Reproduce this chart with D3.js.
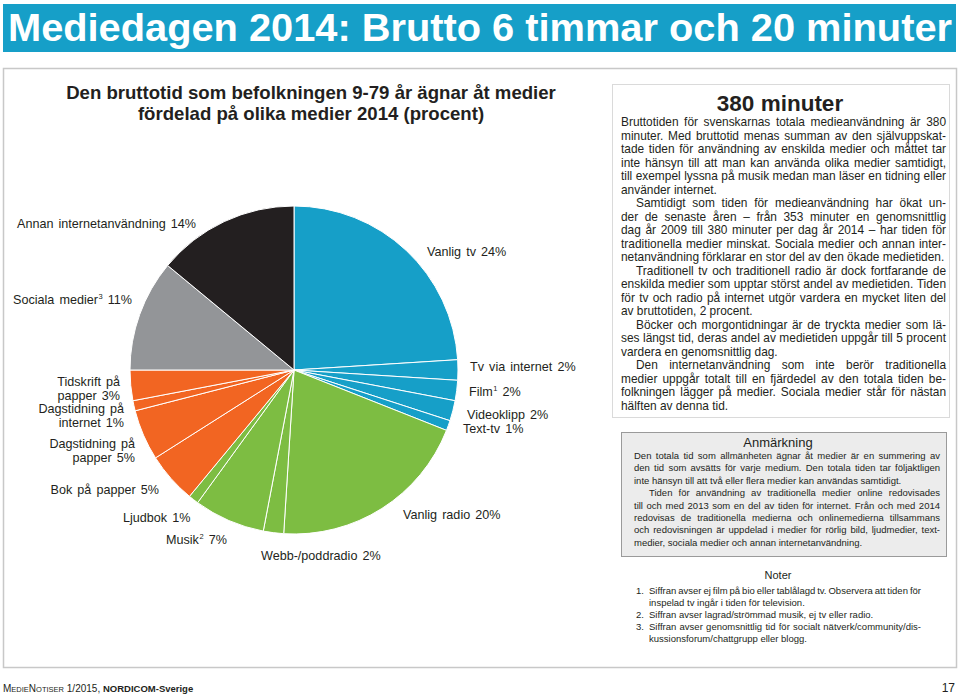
<!DOCTYPE html>
<html><head><meta charset="utf-8">
<script src="https://cdn.jsdelivr.net/npm/d3@7"></script>
<style>
html,body{margin:0;padding:0;background:#fff;}
svg text{font-family:"Liberation Sans",Arial,Helvetica,sans-serif;fill:#231f20;}
</style></head>
<body><svg id="c" width="959" height="695"></svg>
<script>
// ---------- DATA ----------
const title = "Mediedagen 2014: Brutto 6 timmar och 20 minuter";
const chartTitle = ["Den bruttotid som befolkningen 9-79 år ägnar åt medier", "fördelad på olika medier 2014 (procent)"];
const categories = ["Vanlig tv","Tv via internet","Film","Videoklipp","Text-tv","Vanlig radio","Webb-/poddradio","Musik","Ljudbok","Bok på papper","Dagstidning på papper","Dagstidning på internet","Tidskrift på papper","Sociala medier","Annan internetanvändning"];
const values = [24,2,2,2,1,20,2,7,1,5,5,1,3,11,14];
const groups = ["tv","tv","tv","tv","tv","ljud","ljud","ljud","ljud","text","text","text","text","social","annan"];
const footnoteMarks = ["","","1","","","","","2","","","","","","3",""];
const groupNames = ["tv","ljud","text","social","annan"];

const sideHeading = "380 minuter";
const sideParagraphs = [
 ["Bruttotiden för svenskarnas totala medieanvändning är 380","minuter. Med bruttotid menas summan av den självuppskat-","tade tiden för användning av enskilda medier och måttet tar","inte hänsyn till att man kan använda olika medier samtidigt,","till exempel lyssna på musik medan man läser en tidning eller","använder internet."],
 ["Samtidigt som tiden för medieanvändning har ökat un-","der de senaste åren – från 353 minuter en genomsnittlig","dag år 2009 till 380 minuter per dag år 2014 – har tiden för","traditionella medier minskat. Sociala medier och annan inter-","netanvändning förklarar en stor del av den ökade medietiden."],
 ["Traditionell tv och traditionell radio är dock fortfarande de","enskilda medier som upptar störst andel av medietiden. Tiden","för tv och radio på internet utgör vardera en mycket liten del","av bruttotiden, 2 procent."],
 ["Böcker och morgontidningar är de tryckta medier som lä-","ses längst tid, deras andel av medietiden uppgår till 5 procent","vardera en genomsnittlig dag."],
 ["Den internetanvändning som inte berör traditionella","medier uppgår totalt till en fjärdedel av den totala tiden be-","folkningen lägger på medier. Sociala medier står för nästan","hälften av denna tid."]
];
const noteHeading = "Anmärkning";
const noteParagraphs = [
 ["Den totala tid som allmänheten ägnar åt medier är en summering av","den tid som avsätts för varje medium. Den totala tiden tar följaktligen","inte hänsyn till att två eller flera medier kan användas samtidigt."],
 ["Tiden för användning av traditionella medier online redovisades","till och med 2013 som en del av tiden för internet. Från och med 2014","redovisas de traditionella medierna och onlinemedierna tillsammans","och redovisningen är uppdelad i medier för rörlig bild, ljudmedier, text-","medier, sociala medier och annan internetanvändning."]
];
const notesHeading = "Noter";
const notes = [
 ["Siffran avser ej film på bio eller tablålagd tv. Observera att tiden för","inspelad tv ingår i tiden för television."],
 ["Siffran avser lagrad/strömmad musik, ej tv eller radio."],
 ["Siffran avser genomsnittlig tid för socialt nätverk/community/dis-","kussionsforum/chattgrupp eller blogg."]
];

// ---------- LAYOUT / STYLE ----------
const colors = {tv:"#169fc8", ljud:"#7dbd42", text:"#f26522", social:"#939598", annan:"#231f20"};
const cx = 294, cy = 370, R = 164;
// label layout: x, baseline y, anchor, words in first line (0 = single line)
const labelLayout = [
 {x:427,y:256,a:"start",b:0},{x:470,y:371,a:"start",b:0},{x:469,y:396,a:"start",b:0},
 {x:467,y:419,a:"start",b:0},{x:463,y:433,a:"start",b:0},{x:403,y:519,a:"start",b:0},
 {x:261,y:560,a:"start",b:0},{x:166,y:544,a:"start",b:0},{x:123,y:522,a:"start",b:0},
 {x:159,y:494,a:"end",b:0},{x:135,y:448,a:"end",b:2},{x:124,y:413,a:"end",b:2},
 {x:120,y:386,a:"end",b:2},{x:132,y:304,a:"end",b:0},{x:196,y:228,a:"end",b:0}
];

const svg = d3.select("#c");

// Title bar
svg.append("rect").attr("x",3).attr("y",4).attr("width",953).attr("height",48).attr("fill",colors.tv);
svg.append("text").attr("x",8).attr("y",41).attr("font-size",39).attr("font-weight","bold")
  .style("fill","#fff").attr("textLength",944).attr("lengthAdjust","spacingAndGlyphs").text(title);

// Outer panel
svg.append("rect").attr("x",3.5).attr("y",68.5).attr("width",953).attr("height",599)
  .attr("fill","none").attr("stroke","#c8c8c8").attr("stroke-width",1.5);

// Chart title
chartTitle.forEach((t,i)=>{
  svg.append("text").attr("x",311).attr("y",99+i*21).attr("text-anchor","middle")
    .attr("font-size",18.6).attr("font-weight","bold").text(t);
});

// Pie
const data = categories.map((c,i)=>({name:c, value:values[i], group:groups[i], mark:footnoteMarks[i]}));
const pie = d3.pie().sort(null).value(d=>d.value).startAngle(0).endAngle(2*Math.PI);
const arc = d3.arc().innerRadius(0).outerRadius(R);
const color = d3.scaleOrdinal().domain(groupNames).range(groupNames.map(g=>colors[g]));
const pg = svg.append("g").attr("transform",`translate(${cx},${cy})`);
pg.selectAll("path").data(pie(data)).join("path")
  .attr("d",arc).attr("fill",d=>color(d.data.group))
  .attr("stroke","#fff").attr("stroke-width",1).attr("stroke-linejoin","round");

// Labels
const lg = svg.append("g").attr("font-size",12.6);
data.forEach((d,i)=>{
  const L = labelLayout[i];
  const words = d.name.split(" ").map((w,k,arr)=>({t:w, sup: k===arr.length-1 ? d.mark : ""}));
  words.push({t: d.value + "%", sup:""});
  const lines = L.b ? [words.slice(0,L.b), words.slice(L.b)] : [words];
  lines.forEach((ln,li)=>{
    const t = lg.append("text").attr("x",L.x).attr("y",L.y + li*13.5).attr("text-anchor",L.a)
      .style("word-spacing","1.6px");
    let back = 0;
    ln.forEach((w,k)=>{
      const s = t.append("tspan").text((k?" ":"") + w.t);
      if (back){ s.attr("dy",back); back = 0; }
      if (w.sup){
        t.append("tspan").attr("font-size",7.5).attr("dy",-5).attr("dx",0.5).text(w.sup);
        back = 5;
      }
    });
  });
});

// Justified text helper
function textBlock(g, paragraphs, opt){
  let y = opt.y;
  paragraphs.forEach((para,pi)=>{
    para.forEach((line,li)=>{
      const indent = (li===0 && pi>0) ? opt.indent : 0;
      const x0 = opt.x + indent, width = opt.w - indent;
      const isLast = li===para.length-1;
      const t = g.append("text").attr("y",y).attr("font-size",opt.fs);
      if (isLast){
        t.attr("x",x0).text(line);
      } else {
        const words = line.split(" ");
        const spans = words.map(w=>t.append("tspan").text(w));
        const ws = spans.map(s=>s.node().getComputedTextLength());
        const total = d3.sum(ws);
        const n = words.length - 1;
        const minGap = opt.fs*0.2;
        if (n>0 && (width-total)/n < minGap){
          t.selectAll("tspan").remove();
          t.attr("x",x0).attr("textLength",width).attr("lengthAdjust","spacingAndGlyphs").text(line);
        } else {
          const gap = n>0 ? (width-total)/n : 0;
          let x = x0;
          spans.forEach((s,k)=>{ s.attr("x",x); x += ws[k]+gap; });
        }
      }
      y += opt.lh;
    });
  });
  return y;
}

// Side box
svg.append("rect").attr("x",612.5).attr("y",84.5).attr("width",337).attr("height",333)
  .attr("fill","none").attr("stroke","#dadada").attr("stroke-width",1);
svg.append("text").attr("x",780).attr("y",111).attr("text-anchor","middle").attr("font-size",22.5)
  .attr("font-weight","bold").text(sideHeading);
textBlock(svg.append("g"), sideParagraphs, {x:621, w:325, y:126, lh:13.5, fs:11.9, indent:15});

// Anmärkning box
svg.append("rect").attr("x",621.5).attr("y",432.5).attr("width",325).attr("height",124)
  .attr("fill","#ececec").attr("stroke","#9a9a9a").attr("stroke-width",1);
svg.append("text").attr("x",778).attr("y",447).attr("text-anchor","middle").attr("font-size",13).text(noteHeading);
textBlock(svg.append("g"), noteParagraphs, {x:634, w:306, y:459, lh:12.4, fs:9.5, indent:15});

// Noter
svg.append("text").attr("x",778).attr("y",579).attr("text-anchor","middle").attr("font-size",11).text(notesHeading);
let ny = 593.5;
notes.forEach((n,i)=>{
  svg.append("text").attr("x",636).attr("y",ny).attr("font-size",9.5).text((i+1)+".");
  ny = textBlock(svg.append("g"), [n], {x:649, w:272, y:ny, lh:12, fs:9.5, indent:0});
});

// Footer
const ft = svg.append("text").attr("x",3).attr("y",692).attr("font-size",10);
ft.append("tspan").text("M");
ft.append("tspan").attr("font-size",7.5).text("EDIE");
ft.append("tspan").text("N");
ft.append("tspan").attr("font-size",7.5).text("OTISER");
ft.append("tspan").text(" 1/2015, ");
ft.append("tspan").attr("font-weight","bold").attr("font-size",9.5).text("NORDICOM-Sverige");
svg.append("text").attr("x",955).attr("y",692).attr("text-anchor","end").attr("font-size",12).text("17");
</script>
</body></html>
